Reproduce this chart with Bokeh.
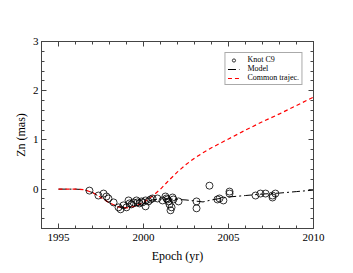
from bokeh.plotting import figure
from bokeh.models import LinearAxis, Range1d, SingleIntervalTicker, Legend, LegendItem, CustomJSTickFormatter
from bokeh.embed import file_html
from bokeh.resources import INLINE

# Data
knot_year = [1996.82, 1997.35, 1997.65, 1997.82, 1997.94, 1998.24, 1998.53, 1998.65, 1998.82,
             1999.0, 1999.12, 1999.18, 1999.29, 1999.41, 1999.59, 1999.65, 1999.76, 1999.88,
             1999.94, 2000.12, 2000.12, 2000.29, 2000.41, 2000.53, 2000.82, 2001.12, 2001.29,
             2001.35, 2001.41, 2001.47, 2001.53, 2001.59, 2001.65, 2001.71, 2001.76, 2002.06,
             2003.12, 2003.12, 2003.88, 2004.35, 2004.47, 2004.7, 2005.06, 2005.06, 2006.59,
             2006.88, 2007.18, 2007.59, 2007.59, 2007.76]
knot_zn = [-0.03, -0.13, -0.09, -0.15, -0.19, -0.27, -0.37, -0.41, -0.33,
           -0.37, -0.23, -0.29, -0.31, -0.27, -0.23, -0.27, -0.29, -0.25,
           -0.27, -0.35, -0.23, -0.25, -0.21, -0.19, -0.19, -0.23, -0.15,
           -0.19, -0.21, -0.25, -0.31, -0.43, -0.37, -0.17, -0.21, -0.25,
           -0.25, -0.39, 0.07, -0.21, -0.19, -0.23, -0.05, -0.09, -0.13,
           -0.09, -0.09, -0.13, -0.17, -0.09]

model_year = [1995, 1996, 1996.5, 1997, 1997.5, 1998, 1998.5, 1999, 1999.5, 2000, 2000.5,
              2001, 2001.5, 2002, 2002.5, 2003, 2003.5, 2004, 2004.5, 2005, 2006, 2007,
              2008, 2009, 2010]
model_zn = [0.0, 0.0, -0.01, -0.07, -0.17, -0.28, -0.36, -0.38, -0.35, -0.28, -0.22,
            -0.2, -0.2, -0.21, -0.22, -0.24, -0.26, -0.22, -0.19, -0.16, -0.13, -0.1,
            -0.08, -0.05, -0.02]

common_year = [1995, 1996, 1996.5, 1997, 1997.5, 1998, 1998.5, 1999, 1999.5, 2000, 2000.5,
               2001, 2001.5, 2002, 2002.5, 2003, 2003.5, 2004, 2005, 2006, 2007, 2008,
               2009, 2010]
common_zn = [0.0, 0.0, -0.01, -0.07, -0.17, -0.28, -0.36, -0.38, -0.35, -0.27, -0.15,
             0.0, 0.18, 0.35, 0.5, 0.63, 0.74, 0.84, 1.02, 1.2, 1.37, 1.53, 1.7, 1.87]

FONT = "Liberation Serif"
AX = "#444444"

p = figure(width=345, height=265, output_backend="svg", toolbar_location=None,
           x_range=Range1d(1994, 2010), y_range=Range1d(-0.8, 3),
           min_border_left=41, min_border_right=32, min_border_top=41, min_border_bottom=34,
           x_axis_label="Epoch (yr)", y_axis_label="Zn (mas)")
p.xgrid.visible = False
p.ygrid.visible = False
p.outline_line_color = AX
p.background_fill_color = "white"
p.border_fill_color = "white"

p.xaxis.ticker = SingleIntervalTicker(interval=5, num_minor_ticks=5)
p.yaxis.ticker = SingleIntervalTicker(interval=1, num_minor_ticks=5)

blank = CustomJSTickFormatter(code="return ''")
p.add_layout(LinearAxis(ticker=SingleIntervalTicker(interval=5, num_minor_ticks=5), formatter=blank), "above")
p.add_layout(LinearAxis(ticker=SingleIntervalTicker(interval=1, num_minor_ticks=5), formatter=blank), "right")

for ax in p.axis:
    ax.axis_line_color = AX
    ax.major_tick_line_color = AX
    ax.minor_tick_line_color = AX
    ax.major_tick_in = 5
    ax.major_tick_out = 0
    ax.minor_tick_in = 3
    ax.minor_tick_out = 0
    ax.major_label_text_font = FONT
    ax.major_label_text_font_size = "11px"
    ax.major_label_text_color = "black"
    ax.axis_label_text_font = FONT
    ax.axis_label_text_font_size = "12px"
    ax.axis_label_text_font_style = "normal"
    ax.axis_label_text_color = "black"

for ax in p.above + p.right:
    ax.major_label_standoff = 0

p.xaxis[0].major_label_standoff = 0
p.xaxis[0].axis_label_standoff = 0
p.yaxis[0].major_label_standoff = 3
p.yaxis[0].axis_label_standoff = 2

r_model = p.line(model_year, model_zn, line_color="black", line_width=1.0, line_dash="8 3 2 3")
r_common = p.line(common_year, common_zn, line_color="#ff0000", line_width=1.2, line_dash="4 3")
r_knot = p.scatter(knot_year, knot_zn, marker="circle", size=7, fill_color=None,
                   line_color="black", line_width=0.8)

legend = Legend(items=[LegendItem(label="Knot C9", renderers=[r_knot]),
                       LegendItem(label="Model", renderers=[r_model]),
                       LegendItem(label="Common trajec.", renderers=[r_common])],
                location="top_right", margin=11, padding=2, spacing=0,
                glyph_height=8, glyph_width=12, label_height=8, label_standoff=8,
                label_text_font=FONT, label_text_font_size="8px", label_text_color="black",
                border_line_color="#555555", border_line_width=1,
                background_fill_color="white", background_fill_alpha=1)
p.add_layout(legend, "center")

open("out.html", "w").write(file_html(p, INLINE))
